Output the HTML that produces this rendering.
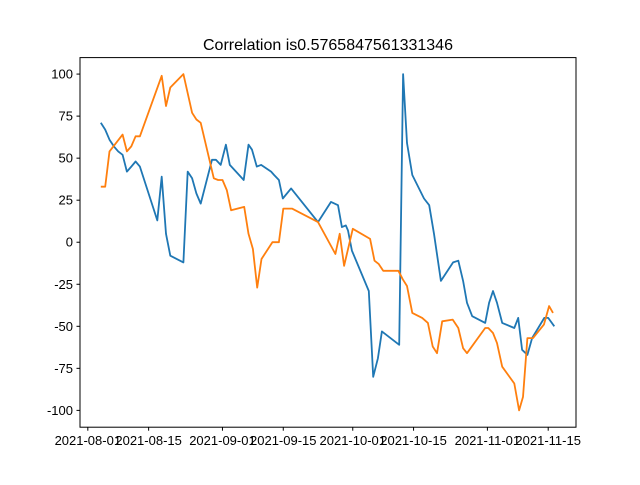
<!DOCTYPE html>
<html><head><meta charset="utf-8"><style>
body{margin:0;background:#fff;width:640px;height:480px;overflow:hidden}
svg text{font-family:"Liberation Sans","DejaVu Sans",sans-serif;fill:#000}
</style></head><body>
<svg id="chart" width="640" height="480">
<rect width="640" height="480" fill="#fff"/>
<text x="328" y="50" text-anchor="middle" font-size="16">Correlation is0.5765847561331346</text>
<g id="grid"></g>
<g id="series"></g>
<rect x="80" y="57.6" width="496" height="369.6" fill="none" stroke="#000" stroke-width="1"/>
</svg>
<script>
const yTicks=[100,75,50,25,0,-25,-50,-75,-100];
const xTickDays=[0,14,31,45,61,75,92,106];
const xTickLabels=["2021-08-01","2021-08-15","2021-09-01","2021-09-15","2021-10-01","2021-10-15","2021-11-01","2021-11-15"];
const blueDays=[3,4,5,6,7,8,9,10,11,12,16,17,18,19,22,23,24,25,26,28.6,29.5,30.6,31.8,32.7,35.9,37,37.8,38.9,39.9,42.2,42.9,44,44.9,46.8,53,56,57.6,58.5,59.4,59.9,60.8,64.7,65.7,66.8,67.7,71.7,72.6,73.5,74.7,77.4,78.6,79.7,81.3,84.1,85.3,86.4,87.3,88.5,91.5,92.4,93.3,94.2,95.4,98.2,99.1,100,101.2,102.3,105.1,106,107.4];
const blueValues=[71,67,61,57,54,52,42,45,48,45,13,39,5,-8,-12,42,38,29,23,49,49,46,58,46,37,58,55,45,46,42,40,37,26,32,12,24,22,9,10,7,-5,-29,-80,-69,-53,-61,100,59,40,26,22,5,-23,-12,-11,-23,-36,-44,-48,-36,-29,-36,-48,-51,-45,-64,-67,-57,-45,-45,-50];
const orangeDays=[3,4,5,8,9,10,11,12,17,18,19,22,24,25,26,29,30,31,32,33,36,37,38,39,40,42.5,44,45,47,53,57,58,59,61,65,66,67,68,71.5,72.5,73.5,74.7,77,78.3,79.4,80.4,81.6,84,85.3,86.4,87.3,91.5,92.2,93.3,94.2,95.4,98.2,99.3,100.2,101.2,102.5,105,106.2,107.1];
const orangeValues=[33,33,54,64,54,57,63,63,99,81,92,100,77,73,71,38,37,37,31,19,21,5,-4,-27,-10,0,0,20,20,12,-7,5,-14,8,2,-11,-13,-17,-17,-22,-26,-42,-45,-48,-62,-66,-47,-46,-51,-63,-66,-51,-51,-54,-60,-74,-84,-100,-92,-57,-57,-49,-38,-42];

const X0=80,X1=576,Y0=57.6,Y1=427.2;
const xMin=-1.8,xMax=112.4,yMin=-110,yMax=109.8;
const sx=d=>X0+(d-xMin)/(xMax-xMin)*(X1-X0);
const sy=v=>Y1-(v-yMin)/(yMax-yMin)*(Y1-Y0);
const NS="http://www.w3.org/2000/svg";
const g=document.getElementById('grid');
yTicks.forEach(v=>{
  const l=document.createElementNS(NS,'line');
  l.setAttribute('x1',X0-3.5);l.setAttribute('x2',X0);l.setAttribute('y1',sy(v));l.setAttribute('y2',sy(v));l.setAttribute('stroke','#000');
  
  
  g.appendChild(l);
  const t=document.createElementNS(NS,'text');
  t.setAttribute('x',X0-7);t.setAttribute('y',sy(v)+4.5);t.setAttribute('text-anchor','end');t.setAttribute('font-size','13');
  t.textContent=v;
  
  
  g.appendChild(t);
});
xTickDays.forEach((d,i)=>{
  const l=document.createElementNS(NS,'line');
  l.setAttribute('x1',sx(d));l.setAttribute('x2',sx(d));l.setAttribute('y1',Y1);l.setAttribute('y2',Y1+3.5);l.setAttribute('stroke','#000');
  
  
  g.appendChild(l);
  const t=document.createElementNS(NS,'text');
  t.setAttribute('x',sx(d));t.setAttribute('y',Y1+18);t.setAttribute('text-anchor','middle');t.setAttribute('font-size','13');
  t.textContent=xTickLabels[i];
  
  
  g.appendChild(t);
});
const s=document.getElementById('series');
function line(days,vals,color,name){
  const p=document.createElementNS(NS,'polyline');
  p.setAttribute('points',days.map((d,i)=>sx(d).toFixed(1)+','+sy(vals[i]).toFixed(1)).join(' '));
  p.setAttribute('fill','none');p.setAttribute('stroke',color);p.setAttribute('stroke-width','1.8');p.setAttribute('stroke-linejoin','round');
  
  
  s.appendChild(p);
}
line(blueDays,blueValues,'#1f77b4','series-blue-line');
line(orangeDays,orangeValues,'#ff7f0e','series-orange-line');
</script>
</body></html>
